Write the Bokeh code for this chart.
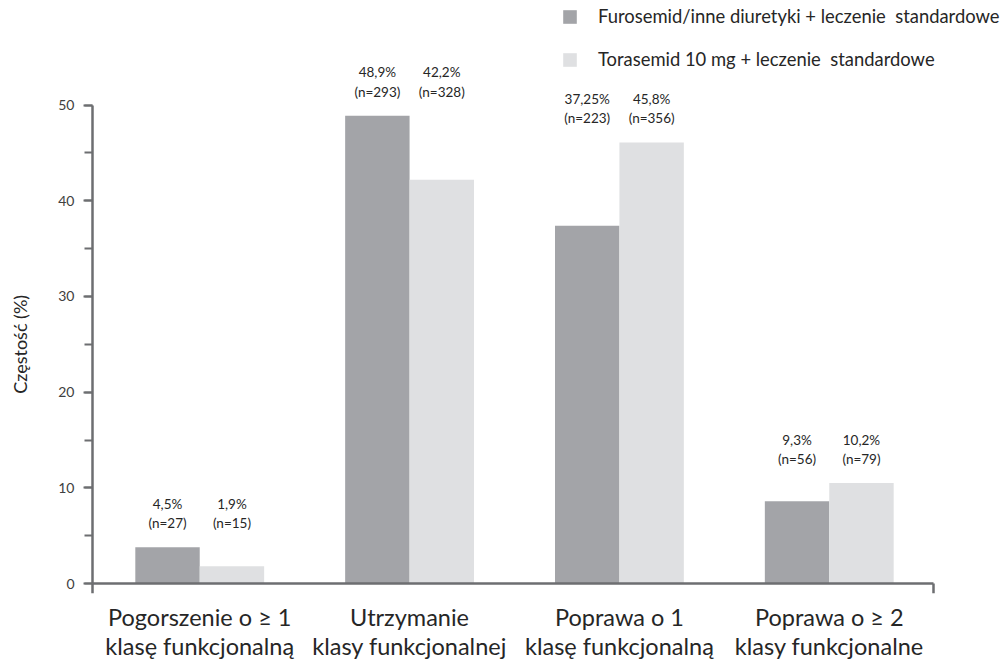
from bokeh.plotting import figure
from bokeh.models import (ColumnDataSource, Range1d, FixedTicker, SingleIntervalTicker,
                          LinearAxis, Legend, LegendItem, Label)
from bokeh.transform import dodge
from bokeh.core.properties import value
from bokeh.embed import file_html
from bokeh.resources import INLINE
import math

# ---- data ----
categories = ["Pogorszenie o \u2265 1\nklas\u0119 funkcjonaln\u0105",
              "Utrzymanie\nklasy funkcjonalnej",
              "Poprawa o 1\nklas\u0119 funkcjonaln\u0105",
              "Poprawa o \u2265 2\nklasy funkcjonalne"]
furosemid = [3.8, 48.9, 37.4, 8.6]      # bar heights as drawn
torasemid = [1.8, 42.2, 46.1, 10.5]
furosemid_labels = ["4,5%\n(n=27)", "48,9%\n(n=293)", "37,25%\n(n=223)", "9,3%\n(n=56)"]
torasemid_labels = ["1,9%\n(n=15)", "42,2%\n(n=328)", "45,8%\n(n=356)", "10,2%\n(n=79)"]
series_names = ["Furosemid/inne diuretyki + leczenie  standardowe",
                "Torasemid 10 mg + leczenie  standardowe"]
y_title = "Cz\u0119sto\u015b\u0107 (%)"
y_max_tick = 50

FONT = "Lato"
DARK = "#a3a4a8"
LIGHT = "#dfe0e2"
AXIS = "#6d6e71"
TXT = "#262626"

idx = list(range(len(categories)))
group_top = [max(a, b) for a, b in zip(furosemid, torasemid)]
src = ColumnDataSource(dict(x=idx, furo=furosemid, tora=torasemid,
                            furo_lab=furosemid_labels, tora_lab=torasemid_labels,
                            top=group_top))

FX0, FX1 = -0.9494, 3.816     # frame extent (whole width)
AX0, AX1 = -0.511, 3.496      # axis extent
Y0, Y1 = -1.045, 60.94
p = figure(frame_width=1000, frame_height=593, output_backend="svg", toolbar_location=None,
           x_range=Range1d(FX0, FX1), y_range=Range1d(Y0, Y1),
           min_border_left=0, min_border_right=0, min_border_top=0, min_border_bottom=68)
p.outline_line_color = None
p.xgrid.visible = False
p.ygrid.visible = False
p.background_fill_color = "white"
p.border_fill_color = "white"

w = 0.307
r1 = p.vbar(x=dodge("x", -w / 2, range=p.x_range), top="furo", width=w, source=src,
            fill_color=DARK, line_color=None)
r2 = p.vbar(x=dodge("x", w / 2, range=p.x_range), top="tora", width=w, source=src,
            fill_color=LIGHT, line_color=None)

for col, off in (("furo_lab", -w / 2), ("tora_lab", w / 2)):
    p.text(x=dodge("x", off, range=p.x_range), y="top", text=col, source=src,
           text_align="center", text_baseline="bottom", text_font=value(FONT),
           text_font_size="13.5px", text_color=TXT, text_line_height=1.2, y_offset=-16)

# y axis, drawn at the start of the category axis
ya = p.yaxis[0]
ya.fixed_location = AX0
ya.ticker = SingleIntervalTicker(interval=10, num_minor_ticks=2)
ya.bounds = (0, y_max_tick)
ya.axis_line_color = AXIS
ya.axis_line_width = 2.5
ya.major_tick_line_color = AXIS
ya.major_tick_line_width = 2
ya.major_tick_out = 9
ya.major_tick_in = 0
ya.minor_tick_line_color = AXIS
ya.minor_tick_line_width = 2
ya.minor_tick_out = 8
ya.minor_tick_in = 0
ya.major_label_text_font = FONT
ya.major_label_text_font_size = "14px"
ya.major_label_text_color = "#404040"
ya.major_label_standoff = 9

# y axis title
p.add_layout(Label(x=AX0 - 0.3455, y=y_max_tick / 2, x_units="data", y_units="data",
                   text=y_title, angle=math.pi / 2,
                   text_align="center", text_baseline="middle",
                   text_font=FONT, text_font_size="18px", text_color=TXT))

# x axis line at 0 with end ticks (minor ticks, so no labels)
xa = p.xaxis[0]
xa.fixed_location = 0
xa.bounds = (AX0, AX1)
xa.ticker = FixedTicker(ticks=[], minor_ticks=[AX0, AX1])
xa.axis_line_color = AXIS
xa.axis_line_width = 2.5
xa.major_tick_line_color = None
xa.minor_tick_line_color = AXIS
xa.minor_tick_line_width = 2.5
xa.minor_tick_out = 10
xa.minor_tick_in = 0
xa.major_label_standoff = 0

# category labels
xc = LinearAxis(ticker=FixedTicker(ticks=idx),
                major_label_overrides={i: c for i, c in zip(idx, categories)},
                axis_line_color=None, major_tick_line_color=None, minor_tick_line_color=None,
                major_label_text_font=FONT, major_label_text_font_size="23.5px",
                major_label_text_color=TXT, major_label_standoff=3,
                major_label_text_line_height=1.07)
p.add_layout(xc, "below")

legend = Legend(items=[LegendItem(label=series_names[0], renderers=[r1]),
                       LegendItem(label=series_names[1], renderers=[r2])],
                location=(561, 523), orientation="vertical",
                glyph_width=17, glyph_height=17, label_height=17, label_standoff=20,
                spacing=21, padding=0, margin=0,
                label_text_font=FONT, label_text_font_size="18.4px", label_text_color=TXT,
                border_line_color=None, background_fill_alpha=0)
p.add_layout(legend, "center")

open("out.html", "w").write(file_html(p, INLINE))
